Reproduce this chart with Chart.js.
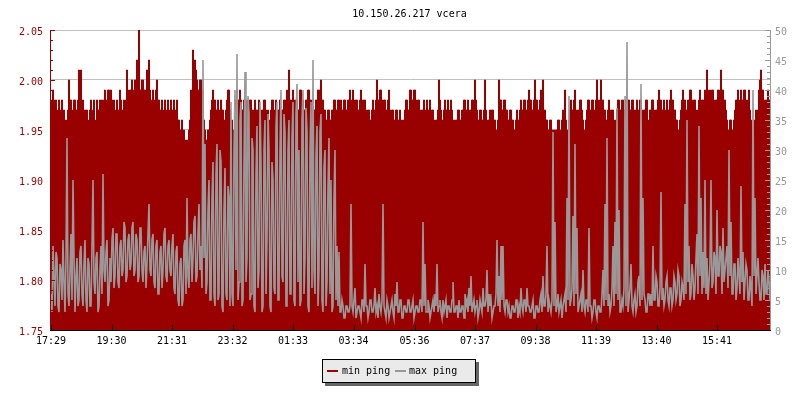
<!DOCTYPE html>
<html><head><meta charset="utf-8">
<script src="https://cdn.jsdelivr.net/npm/chart.js@4/dist/chart.umd.min.js"></script>
<style>html,body{margin:0;padding:0;background:#fff;}canvas{display:block;}</style>
</head><body>
<canvas id="c" width="800" height="400"></canvas>
<script>
const chartTitle = '10.150.26.217 vcera';
const seriesNames = ['min ping', 'max ping'];
const startTime = '17:29';
const sampleStepMinutes = 2;
const axisSpanMinutes = 1438;
const tickLabels = ['17:29','19:30','21:31','23:32','01:33','03:34','05:36','07:37','09:38','11:39','13:40','15:41'];
const leftTicks = [1.75, 1.80, 1.85, 1.90, 1.95, 2.00, 2.05];
const rightTicks = [0, 5, 10, 15, 20, 25, 30, 35, 40, 45, 50];

const minPing = [
1.98,1.97,1.99,1.98,1.97,1.98,1.96,1.97,1.98,1.96,1.97,1.98,1.96,1.97,1.95,1.96,1.93,1.97,2.00,1.98,1.98,1.96,1.97,1.98,1.98,1.97,1.97,1.98,2.01,1.98,2.01,1.97,1.98,1.97,1.96,1.97,1.97,1.95,1.96,1.97,1.98,1.96,1.97,1.98,1.96,1.95,1.98,1.97,1.97,1.98,1.96,1.98,1.97,1.98,1.99,1.97,1.98,1.99,1.99,1.98,
1.99,1.98,1.97,1.98,1.95,1.97,1.98,1.97,1.97,1.99,1.98,1.97,1.96,1.98,1.97,1.98,2.01,1.99,1.98,1.99,1.99,2.00,1.98,1.99,2.00,1.99,2.02,1.99,2.05,1.99,1.99,2.00,2.00,1.99,1.99,1.98,2.01,1.99,2.02,1.99,1.98,1.97,1.99,1.98,1.97,1.99,2.00,1.98,1.98,1.97,1.97,1.98,1.96,1.97,1.98,1.96,1.97,1.98,1.96,1.97,
1.98,1.97,1.97,1.98,1.96,1.97,1.98,1.96,1.96,1.95,1.95,1.96,1.94,1.95,1.93,1.94,1.90,1.94,1.95,1.96,1.99,1.98,2.03,2.00,2.02,2.01,2.00,1.99,1.99,2.00,2.00,1.99,1.99,1.96,1.95,1.94,1.94,1.95,1.95,1.96,1.97,1.98,1.99,1.98,1.98,1.97,1.97,1.98,1.96,1.97,1.98,1.97,1.97,1.96,1.96,1.97,1.98,1.99,1.99,1.97,
1.94,1.96,1.92,1.95,1.97,1.98,1.99,1.98,1.98,1.99,1.98,1.97,1.97,1.98,1.99,1.97,1.98,1.97,1.97,1.98,1.98,1.97,1.96,1.97,1.98,1.97,1.97,1.96,1.98,1.97,1.96,1.97,1.97,1.98,1.98,1.97,1.96,1.97,1.95,1.96,1.97,1.98,1.98,1.96,1.97,1.98,1.96,1.97,1.97,1.98,1.96,1.97,1.97,1.98,1.98,1.97,1.99,1.98,2.01,1.98,
1.98,1.97,1.99,1.98,1.97,1.98,1.98,1.97,1.97,1.99,1.99,1.98,1.98,1.97,1.97,1.98,1.98,1.99,1.99,1.98,1.98,1.97,1.96,1.97,1.97,1.98,1.98,1.99,1.99,1.98,2.00,1.98,1.98,1.97,1.97,1.96,1.96,1.97,1.97,1.96,1.96,1.97,1.97,1.98,1.98,1.97,1.97,1.98,1.98,1.97,1.98,1.97,1.97,1.98,1.98,1.97,1.97,1.98,1.98,1.99,
1.97,1.98,1.99,1.98,1.97,1.98,1.98,1.97,1.97,1.98,1.99,1.98,1.97,1.98,1.98,1.97,1.96,1.97,1.97,1.96,1.96,1.97,1.98,1.97,1.97,1.98,2.00,1.98,1.98,1.99,1.99,1.98,1.97,1.98,1.98,1.97,1.97,1.98,1.99,1.97,1.96,1.97,1.97,1.96,1.96,1.97,1.97,1.96,1.96,1.97,1.95,1.96,1.93,1.96,1.97,1.98,1.98,1.97,1.97,1.99,
1.99,1.98,1.98,1.99,1.99,1.98,1.97,1.98,1.98,1.97,1.96,1.97,1.97,1.98,1.96,1.97,1.98,1.97,1.97,1.98,1.96,1.97,1.97,1.96,1.94,1.96,1.96,1.97,2.00,1.98,1.97,1.96,1.93,1.97,1.98,1.97,1.97,1.98,1.96,1.97,1.98,1.97,1.95,1.96,1.94,1.96,1.96,1.97,1.97,1.96,1.96,1.97,1.97,1.98,1.98,1.97,1.97,1.98,1.96,1.97,
1.97,1.98,1.98,1.97,2.00,1.98,1.97,1.96,1.96,1.97,1.97,1.96,1.96,1.97,2.00,1.97,1.93,1.96,1.96,1.97,1.96,1.97,1.97,1.96,1.96,1.95,1.92,1.96,2.00,1.98,1.98,1.97,1.97,1.98,1.98,1.97,1.97,1.96,1.96,1.97,1.97,1.96,1.96,1.95,1.95,1.96,1.97,1.96,1.96,1.97,1.98,1.97,1.97,1.98,1.98,1.97,1.97,1.98,1.99,1.98,
1.98,1.97,1.97,1.98,2.00,1.98,1.98,1.97,1.97,1.98,1.99,1.98,2.00,1.97,1.97,1.96,1.96,1.95,1.95,1.96,1.96,1.95,1.94,1.95,1.93,1.95,1.95,1.96,1.96,1.94,1.95,1.96,1.97,1.96,1.99,1.96,1.92,1.95,1.96,1.97,1.98,1.97,1.97,1.98,1.99,1.97,1.96,1.97,1.97,1.98,1.98,1.97,1.96,1.95,1.94,1.96,1.97,1.98,1.98,1.97,
1.97,1.98,1.98,1.97,1.96,1.98,2.00,1.98,1.97,1.98,2.00,1.98,1.98,1.97,1.97,1.96,1.96,1.97,1.98,1.97,1.96,1.97,1.97,1.96,1.95,1.96,1.97,1.98,1.98,1.97,1.97,1.98,1.98,1.97,1.97,1.98,1.99,1.98,1.98,1.97,1.97,1.98,1.98,1.97,1.96,1.97,1.98,1.97,1.97,1.98,1.98,1.97,1.96,1.97,1.97,1.98,1.98,1.96,1.95,1.97,
1.97,1.98,1.98,1.97,1.96,1.97,1.97,1.98,1.99,1.98,1.98,1.97,1.97,1.98,1.96,1.97,1.98,1.97,1.97,1.98,1.99,1.98,1.98,1.97,1.97,1.96,1.96,1.95,1.94,1.96,1.97,1.98,1.99,1.98,1.98,1.97,1.97,1.98,1.98,1.99,1.99,1.98,1.97,1.98,1.98,1.97,1.96,1.97,1.98,1.99,1.97,1.98,1.98,1.97,1.99,1.98,2.01,1.99,1.98,1.99,
1.98,1.99,1.99,1.98,1.97,1.98,1.98,1.99,1.99,1.98,2.01,1.99,1.99,1.98,1.98,1.97,1.96,1.95,1.94,1.96,1.96,1.95,1.95,1.96,1.97,1.98,1.98,1.99,1.97,1.98,1.99,1.98,1.98,1.99,1.99,1.98,1.97,1.98,1.99,1.97,1.96,1.95,1.94,1.95,1.96,1.97,1.95,1.97,1.99,2.00,2.01,1.99,1.99,1.98,1.97,1.98,1.98,1.99,1.98,1.98
];

const maxPing = [
6,3,14,9,4,13,12,4,3,11,10,5,15,8,3,12,32,6,4,10,16,5,25,12,3,9,12,4,5,13,14,6,4,11,15,5,3,12,11,4,4,14,25,8,6,12,13,3,4,10,14,6,26,10,8,13,15,4,5,12,
8,15,17,7,9,16,16,8,7,14,15,9,10,18,17,8,9,15,16,10,11,17,18,9,10,16,15,8,9,17,17,10,8,13,14,7,11,16,21,10,9,15,16,8,7,14,15,6,6,13,14,7,10,16,17,9,8,14,15,10,
9,14,16,7,6,13,14,5,4,11,12,4,5,14,15,6,22,9,7,15,16,8,12,18,19,8,9,16,21,10,14,7,45,12,31,6,8,20,25,5,5,22,28,6,4,26,31,5,6,30,28,4,3,20,27,6,5,24,22,4,
38,6,4,30,40,10,46,5,8,35,38,4,5,28,43,8,12,39,36,5,6,32,30,4,3,26,34,7,10,38,28,3,4,30,35,6,15,36,30,4,3,28,25,7,6,34,38,5,5,30,40,9,8,36,33,4,4,30,35,6,
6,32,38,5,4,36,41,8,30,4,5,35,40,6,12,37,33,4,3,30,38,7,45,10,6,29,34,4,10,33,36,5,3,27,30,4,8,24,32,6,25,3,4,22,30,5,14,4,13,3,3,5,4,2,2,4,4,3,3,4,
21,4,3,5,7,2,3,4,4,3,2,5,5,3,11,4,4,2,3,5,5,3,3,4,7,3,4,2,6,4,3,5,21,4,3,2,5,4,2,3,4,5,3,2,6,4,8,3,3,5,5,2,2,4,4,3,3,5,5,3,
3,4,5,2,2,4,4,3,3,5,5,3,18,4,11,3,3,5,4,2,3,4,5,3,6,4,11,3,4,5,3,2,5,3,4,5,2,4,4,3,3,5,8,3,3,4,4,2,5,3,3,4,4,2,6,4,5,3,7,4,
9,3,4,5,3,4,5,2,3,5,4,3,7,4,4,5,10,3,6,4,5,2,3,4,4,6,15,4,9,3,14,5,14,4,3,5,5,3,4,2,2,4,4,3,3,5,5,2,4,3,7,4,3,5,5,3,7,4,4,3,
3,4,5,2,2,4,4,3,3,5,6,3,9,4,4,6,14,3,5,4,3,5,33,4,18,3,4,6,3,4,5,2,4,5,6,3,22,5,39,4,5,7,19,4,31,6,17,3,4,5,6,3,10,4,3,5,5,3,17,4,
4,2,3,5,5,3,2,4,4,3,3,6,10,4,21,5,32,4,6,3,4,7,14,4,18,6,37,5,20,3,3,5,4,7,39,4,48,3,5,7,11,4,3,5,6,3,4,8,9,4,41,5,22,6,5,3,3,6,6,4,
6,4,14,5,5,9,8,4,4,7,23,5,7,4,5,8,9,5,4,7,7,4,5,9,8,5,6,10,9,4,5,8,7,5,21,6,35,8,14,5,6,11,9,5,7,12,16,6,34,9,22,6,13,7,25,6,12,5,8,11,
25,7,8,13,12,6,20,9,9,14,13,6,17,8,10,12,14,7,30,9,18,6,6,11,11,5,7,12,9,6,24,8,13,5,8,11,10,5,5,9,7,4,40,9,22,6,9,12,8,5,5,10,9,5,11,6,6,10,8,5
];

const RED = '#990000';
const GREY = '#999999';
const GRIDC = '#c0c0c0';
const FONTFAM = '"DejaVu Sans Mono", "Liberation Mono", monospace';
const FONT = '10px ' + FONTFAM;

function minutesFromStart(label) {
  const [h, m] = label.split(':').map(Number);
  const [h0, m0] = startTime.split(':').map(Number);
  return ((h * 60 + m) - (h0 * 60 + m0) + 1440) % 1440;
}
const tickMinutes = tickLabels.map(minutesFromStart);
const sampleMinutes = minPing.map((_, i) => i * sampleStepMinutes);

const decor = {
  id: 'decor',
  afterDatasetsDraw(chart) {
    const { ctx, chartArea: a, scales } = chart;
    const y = scales.y, y1 = scales.y1, x = scales.x;
    ctx.save();
    ctx.fillStyle = RED;
    const lo = leftTicks[0], hi = leftTicks[leftTicks.length - 1];
    const nMinor = Math.round((hi - lo) / 0.01);
    for (let k = 0; k <= nMinor; k++) {
      const py = Math.round(y.getPixelForValue(lo + k * 0.01));
      ctx.fillRect(a.left, py, k % 5 === 0 ? 4 : 2, 1);
    }
    ctx.fillStyle = GREY;
    const rhi = rightTicks[rightTicks.length - 1];
    for (let k = 0; k <= rhi; k++) {
      const py = Math.round(y1.getPixelForValue(k));
      const len = k % 5 === 0 ? 5 : 3;
      ctx.fillRect(a.right - len, py, len, 1);
    }
    ctx.fillStyle = RED;
    ctx.fillRect(a.left - 1, a.top, 1, a.bottom - a.top + 1);
    ctx.fillStyle = GREY;
    ctx.fillRect(a.right, a.top, 1, a.bottom - a.top + 1);
    ctx.fillStyle = '#000';
    ctx.fillRect(a.left - 1, a.bottom, a.right - a.left + 2, 1);
    tickMinutes.forEach(m => {
      const px = Math.round(x.getPixelForValue(m));
      ctx.fillRect(px, a.bottom - 5, 1, 5);
    });
    ctx.restore();
  },
  afterDraw(chart) {
    const { ctx, chartArea: a } = chart;
    ctx.save();
    ctx.font = FONT;
    ctx.textBaseline = 'alphabetic';
    ctx.fillStyle = '#000';
    ctx.textAlign = 'center';
    ctx.fillText(chartTitle, (a.left + a.right) / 2 - 1, 17);
    const lx = 322, ly = 359, lw = 154, lh = 24;
    ctx.fillStyle = '#666666';
    ctx.fillRect(lx + 3, ly + 3, lw, lh);
    ctx.fillStyle = '#eaeaea';
    ctx.fillRect(lx, ly, lw, lh);
    ctx.strokeStyle = '#000';
    ctx.lineWidth = 1;
    ctx.strokeRect(lx + 0.5, ly + 0.5, lw - 1, lh - 1);
    ctx.fillStyle = RED;
    ctx.fillRect(327, 370, 11, 2);
    ctx.fillStyle = GREY;
    ctx.fillRect(395, 370, 11, 2);
    ctx.fillStyle = '#000';
    ctx.textAlign = 'left';
    ctx.fillText(seriesNames[0], 342, 374);
    ctx.fillText(seriesNames[1], 409, 374);
    ctx.restore();
  }
};

Chart.defaults.font.family = FONTFAM;
Chart.defaults.font.size = 10;

new Chart(document.getElementById('c'), {
  type: 'line',
  data: {
    datasets: [
      {
        label: seriesNames[0],
        data: sampleMinutes.map((m, i) => ({ x: m, y: minPing[i] })),
        yAxisID: 'y',
        borderColor: RED,
        backgroundColor: RED,
        borderWidth: 1,
        fill: 'start',
        stepped: 'middle',
        pointRadius: 0,
        order: 2
      },
      {
        label: seriesNames[1],
        data: sampleMinutes.map((m, i) => ({ x: m, y: maxPing[i] })),
        yAxisID: 'y1',
        borderColor: GREY,
        backgroundColor: GREY,
        borderWidth: 1.6,
        fill: false,
        tension: 0,
        pointRadius: 0,
        order: 1
      }
    ]
  },
  options: {
    responsive: false,
    animation: false,
    devicePixelRatio: 1,
    events: [],
    layout: { padding: { top: 30, left: 0, right: 0, bottom: 0 } },
    plugins: { legend: { display: false }, title: { display: false }, tooltip: { enabled: false } },
    scales: {
      x: {
        type: 'linear', position: 'bottom', min: 0, max: axisSpanMinutes,
        afterBuildTicks: s => { s.ticks = tickMinutes.map(v => ({ value: v })); },
        afterFit: s => { s.height = 70; },
        grid: { display: false, drawTicks: false },
        border: { display: false },
        ticks: { autoSkip: false, maxRotation: 0, padding: 5, color: '#000',
          callback: (v, i) => tickLabels[i] }
      },
      y: {
        position: 'left', min: leftTicks[0], max: leftTicks[leftTicks.length - 1],
        afterBuildTicks: s => { s.ticks = leftTicks.map(v => ({ value: v })); },
        afterFit: s => { s.width = 51; },
        grid: { color: GRIDC, drawTicks: false },
        border: { display: false },
        ticks: { color: RED, padding: 8, labelOffset: 2, callback: v => Number(v).toFixed(2) }
      },
      y1: {
        position: 'right', min: rightTicks[0], max: rightTicks[rightTicks.length - 1],
        afterBuildTicks: s => { s.ticks = rightTicks.map(v => ({ value: v })); },
        afterFit: s => { s.width = 30; },
        grid: { display: false, drawTicks: false },
        border: { display: false },
        ticks: { color: GREY, padding: 5, labelOffset: 2, callback: v => String(v) }
      }
    }
  },
  plugins: [decor]
});
</script>
</body></html>
